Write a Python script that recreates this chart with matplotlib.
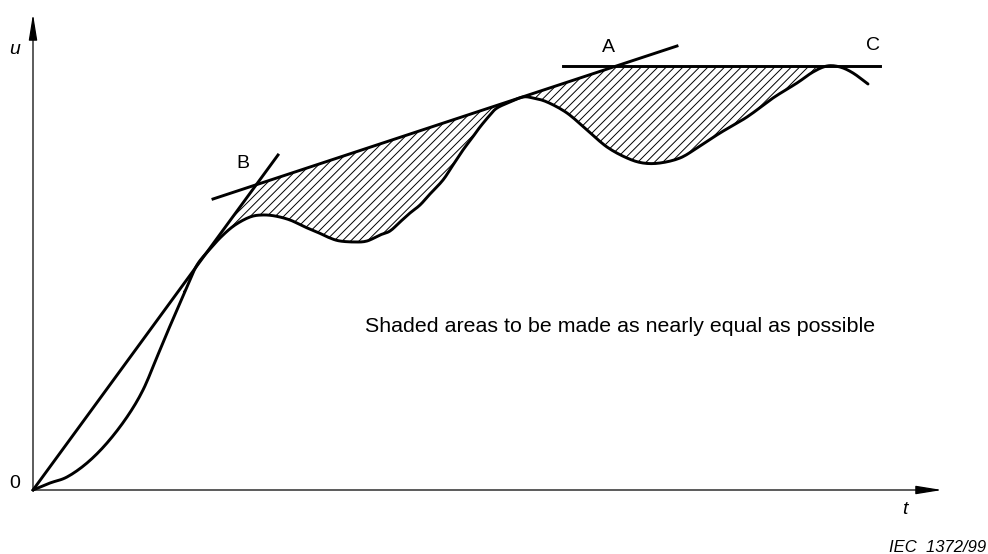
import numpy as np
import matplotlib
matplotlib.use("Agg")
import matplotlib.pyplot as plt

plt.rcParams['font.family'] = ['Liberation Sans', 'DejaVu Sans']
plt.rcParams['hatch.linewidth'] = 0.7

# Response curve u(t) (arbitrary units, origin at 0,0)
curve_t = [0, 17, 34, 54, 74, 94, 110, 124, 134, 144, 154, 164, 177, 189, 202, 217,
           229, 242, 257, 272, 284, 297, 307, 322, 334, 347, 357, 367, 377, 387, 397,
           410, 420, 430, 439, 447, 457, 464, 477, 490, 500, 514, 534, 554, 574, 594,
           610, 627, 647, 664, 687, 714, 740, 764, 780, 794, 807, 820, 835]
curve_u = [0, 7, 13, 27, 47, 73, 100, 133, 157, 180, 203, 225, 241, 254, 265, 273,
           275, 274, 270, 263, 258, 252, 249, 248, 249, 255, 259, 268, 277, 285, 296,
           310, 325, 340, 352, 363, 375, 382, 388, 393, 392, 388, 377, 360, 343, 332,
           327, 327, 332, 342, 357, 373, 392, 407, 418, 424, 423, 417, 406]

# Construction lines (end points)
tangent0_t = [0, 245]      # initial tangent from origin (through B)
tangent0_u = [0, 335]
tangentB_t = [180, 644]    # tangent line from B through A
tangentB_u = [291, 444]
horizC_t = [530, 847]      # horizontal line A-C
horizC_u = [424, 424]
shade_range = [150, 794]   # t range of the shaded areas

labels = {'A': (575, 443), 'B': (210, 327), 'C': (840, 445)}
note = "Shaded areas to be made as nearly equal as possible"
ref_code = "IEC  1372/99"


def catmull_rom(xs, ys, n=8):
    x = np.asarray(xs, float)
    y = np.asarray(ys, float)
    px = np.concatenate([[2 * x[0] - x[1]], x, [2 * x[-1] - x[-2]]])
    py = np.concatenate([[2 * y[0] - y[1]], y, [2 * y[-1] - y[-2]]])
    ox, oy = [], []
    s = np.linspace(0, 1, n, endpoint=False)
    for i in range(1, len(px) - 2):
        for arr, out in ((px, ox), (py, oy)):
            p0, p1, p2, p3 = arr[i - 1], arr[i], arr[i + 1], arr[i + 2]
            out.extend(0.5 * ((2 * p1) + (-p0 + p2) * s + (2 * p0 - 5 * p1 + 4 * p2 - p3) * s ** 2
                              + (-p0 + 3 * p1 - 3 * p2 + p3) * s ** 3))
    ox.append(x[-1])
    oy.append(y[-1])
    return np.array(ox), np.array(oy)


fig = plt.figure(figsize=(9.88, 5.54), dpi=100)
ax = fig.add_axes([0, 0, 1, 1])
ax.set_xlim(-33, 955)
ax.set_ylim(-64, 490)
ax.axis('off')


def line_at(ts, us, t):
    slope = (us[1] - us[0]) / (ts[1] - ts[0])
    return us[0] + slope * (np.asarray(t) - ts[0])


sx, sy = catmull_rom(curve_t, curve_u)

# hatched areas
tt = np.linspace(shade_range[0], shade_range[1], 3000)
cu = np.interp(tt, sx, sy)
bound = np.minimum(np.minimum(line_at(tangent0_t, tangent0_u, tt),
                              line_at(tangentB_t, tangentB_u, tt)),
                   line_at(horizC_t, horizC_u, tt))
ax.fill_between(tt, cu, bound, where=bound >= cu, interpolate=True,
                facecolor='none', edgecolor='black', hatch='////', linewidth=0)

lw = 2.1
ax.plot(sx, sy, color='black', lw=lw, solid_joinstyle='round', solid_capstyle='round')
ax.plot(tangent0_t, tangent0_u, color='black', lw=lw)
ax.plot(tangentB_t, tangentB_u, color='black', lw=lw)
ax.plot(horizC_t, horizC_u, color='black', lw=lw)

# axes with arrows
arrow = dict(arrowstyle='-|>,head_length=16,head_width=2.6', mutation_scale=1,
             color='black', lw=0.9, shrinkA=0, shrinkB=0)
ax.annotate('', xy=(0, 476), xytext=(0, 0), arrowprops=arrow)
ax.annotate('', xy=(909, 0), xytext=(0, 0), arrowprops=arrow)

ax.text(-18, 440, 'u', fontsize=14, style='italic', ha='center', va='center')
ax.text(-18, 7, '0', fontsize=14, ha='center', va='center')
ax.text(872, -20, 't', fontsize=14, style='italic', ha='center', va='center')
for k, (x, y) in labels.items():
    ax.text(x, y, k, fontsize=14, ha='center', va='center')
ax.text(332, 163, note, fontsize=15.4, ha='left', va='center')
ax.text(953, -57, ref_code, fontsize=12, style='italic', ha='right', va='center')

fig.savefig('out.png', dpi=100)
